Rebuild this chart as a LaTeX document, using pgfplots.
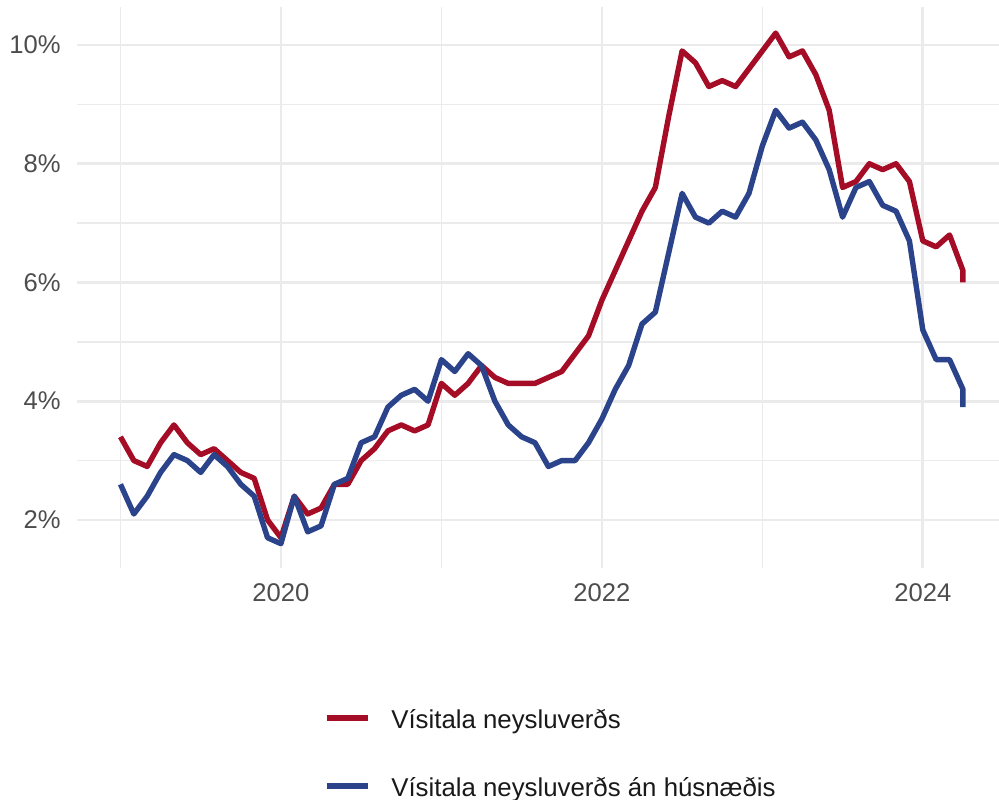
\documentclass[border=0pt]{standalone}
\usepackage{pgfplots}
\pgfplotsset{compat=1.18}
\usepackage{fontspec}
\setmainfont{Liberation Sans}

\definecolor{cpired}{HTML}{A50D26}
\definecolor{cpiblue}{HTML}{2A438A}
\definecolor{gridc}{HTML}{EBEBEB}
\definecolor{ticktext}{HTML}{4D4D4D}

% monthly index: 0 = Jan 2019, 12 = Jan 2020, ...
\pgfplotstableread{
m  v
0  3.4
1  3.0
2  2.9
3  3.3
4  3.6
5  3.3
6  3.1
7  3.2
8  3.0
9  2.8
10 2.7
11 2.0
12 1.7
13 2.4
14 2.1
15 2.2
16 2.6
17 2.6
18 3.0
19 3.2
20 3.5
21 3.6
22 3.5
23 3.6
24 4.3
25 4.1
26 4.3
27 4.6
28 4.4
29 4.3
30 4.3
31 4.3
32 4.4
33 4.5
34 4.8
35 5.1
36 5.7
37 6.2
38 6.7
39 7.2
40 7.6
41 8.8
42 9.9
43 9.7
44 9.3
45 9.4
46 9.3
47 9.6
48 9.9
49 10.2
50 9.8
51 9.9
52 9.5
53 8.9
54 7.6
55 7.7
56 8.0
57 7.9
58 8.0
59 7.7
60 6.7
61 6.6
62 6.8
63 6.2
63 6.0
}\vnv

\pgfplotstableread{
m  v
0  2.6
1  2.1
2  2.4
3  2.8
4  3.1
5  3.0
6  2.8
7  3.1
8  2.9
9  2.6
10 2.4
11 1.7
12 1.6
13 2.4
14 1.8
15 1.9
16 2.6
17 2.7
18 3.3
19 3.4
20 3.9
21 4.1
22 4.2
23 4.0
24 4.7
25 4.5
26 4.8
27 4.6
28 4.0
29 3.6
30 3.4
31 3.3
32 2.9
33 3.0
34 3.0
35 3.3
36 3.7
37 4.2
38 4.6
39 5.3
40 5.5
41 6.5
42 7.5
43 7.1
44 7.0
45 7.2
46 7.1
47 7.5
48 8.3
49 8.9
50 8.6
51 8.7
52 8.4
53 7.9
54 7.1
55 7.6
56 7.7
57 7.3
58 7.2
59 6.7
60 5.2
61 4.7
62 4.7
63 4.2
63 3.9
}\vnvah

\begin{document}
\begin{tikzpicture}
\useasboundingbox (0,0) rectangle (499.5pt,399.5pt);
\begin{axis}[
  at={(38.5pt,115.5pt)}, anchor=south west,
  scale only axis, width=461pt, height=280.5pt,
  xmin=-3.25, xmax=65.7,
  ymin=1.19, ymax=10.64,
  axis line style={draw=none},
  tick style={draw=none},
  xtick={12,36,60}, xticklabels={2020,2022,2024},
  minor xtick={0,24,48},
  ytick={2,4,6,8,10}, yticklabels={2\%,4\%,6\%,8\%,10\%},
  minor ytick={3,5,7,9},
  grid=both,
  major grid style={gridc, line width=1.35pt},
  minor grid style={gridc, line width=0.7pt},
  ticklabel style={font=\fontsize{12.8}{15}\selectfont, text=ticktext},
  yticklabel style={anchor=east, inner sep=0pt, xshift=-8pt},
  xticklabel style={anchor=north, inner sep=0pt, yshift=-7.5pt},
  legend cell align=left,
  legend image code/.code={\draw[#1] (0pt,0pt) -- (20.5pt,0pt);},
  legend style={
    at={(0.2678,-0.2424)}, anchor=north west,
    draw=none, fill=none, inner sep=0pt, outer sep=0pt,
    row sep=20pt, column sep=10.5pt,
    nodes={inner sep=0pt, text height=12pt, text depth=2pt,
           font=\fontsize{12.9}{15}\selectfont, text=black!90},
  },
]
\addplot[cpired, line width=2.7pt, line join=round] table[x=m, y=v] {\vnv};
\addlegendentry{Vísitala neysluverðs}
\addplot[cpiblue, line width=2.7pt, line join=round] table[x=m, y=v] {\vnvah};
\addlegendentry{Vísitala neysluverðs án húsnæðis}
\end{axis}
\end{tikzpicture}
\end{document}
